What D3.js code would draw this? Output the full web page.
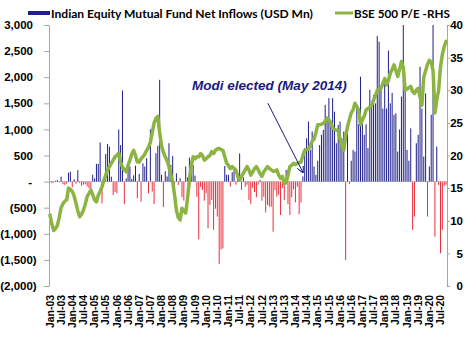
<!DOCTYPE html>
<html>
<head>
<meta charset="utf-8">
<script src="https://cdn.jsdelivr.net/npm/d3@7"></script>
<style>
  body { margin: 0; background: #fff; }
  svg { display: block; }
</style>
</head>
<body>
<svg id="chart" width="476" height="339"></svg>
<script>
// monthly data, Jan-03 onwards
const startYear = 2003;

const flows = [
  10, -30, -20, 15, 30, -15, 95, -50, -60, -40, 170, 190,
  -110, 45, -40, 220, -30, -80, -60, -50, -90, -130, -160, 130,
  60, 340, 340, 750, -415, 80, 530, 720, 670, 95, -255, -200,
  -220, 1000, 700, 1745, -430, 60, 290, 290, 50, 120, 305, -320,
  150, -385, 350, 290, 450, -225, 1000, -190, -430, 545, 685, 1950,
  130, -490, 200, 100, 735, 320, 490, -100, 160, -65, 65, -300,
  -365, 290, 80, 460, 235, 320, 115, -290, -1105, -100, -160, -365,
  -225, -895, -450, -350, -925, -520, -670, -1580, -1300, -1280, 300, 130,
  130, -95, 180, 220, -60, 120, 540, -160, 80, -100, -60, -350,
  -430, -120, -200, -300, -60, 30, -365, -290, -590, -450, -480, -480, -960,
  -160, -290, -250, -640, -120, -350, 225, -435, -640, -300, -150, -400,
  -100, -625, -400, 100, 640, 830, 1150, 607, 960, 290, 130, 400,
  700, 895, 990, 1470, 1245, 1600, 1100, 1600, 1340, 735, 1085, 1150,
  830, 960, -1500, 1055, -50, 400, 607, 575, 1400, 1100, 2010, 1150,
  895, 1100, 640, 1757, 1530, 1660, 1500, 2790, 2680, 1820, 1400, 1885,
  1400, 2510, 1500, 1700, 1280, 1310, 575, 1000, 1630, 3000, 1850, 607,
  400, 1020, -925, -670, 735, 895, 2200, 1400, 480, 1690, -670, 290,
  1280, 3000, -1055, 670, -65, -1375, -925, -80, -60
];

const pe = [
  10.9, 9.5, 8.5, 8.8, 9.3, 10.5, 12.0, 12.6, 13.0, 13.2, 15.0, 14.8,
  14.5, 13.8, 12.7, 11.5, 10.6, 11.0, 11.6, 12.5, 13.7, 14.2, 14.7, 14.0,
  13.2, 12.9, 13.9, 14.5, 15.2, 16.2, 17.0, 17.8, 18.3, 18.8, 19.3, 19.8,
  20.0, 20.4, 19.0, 18.2, 17.8, 17.5, 18.5, 19.3, 20.2, 20.8, 20.0, 19.0,
  19.0, 19.5, 19.8, 20.2, 20.8, 21.3, 22.0, 23.5, 25.0, 25.7, 26.0, 23.5,
  21.5, 20.5, 19.8, 19.2, 18.3, 17.0, 16.0, 14.0, 11.6, 10.5, 10.1, 11.9,
  11.5, 11.2, 13.5, 16.2, 18.5, 19.8, 19.5, 19.8, 19.8, 20.3, 20.0, 19.3,
  19.5, 19.8, 20.0, 20.6, 20.3, 20.8, 21.0, 21.1, 20.9, 20.8, 19.8, 18.8,
  18.5, 18.0, 18.3, 18.0, 17.8, 16.8, 16.2, 16.8, 17.3, 17.8, 18.3, 17.8,
  17.0, 17.5, 18.0, 18.3, 17.8, 17.2, 16.8, 17.5, 17.9, 18.3, 18.0, 17.8, 17.6,
  17.6, 17.8, 17.0, 16.5, 16.8, 15.7, 15.8, 17.0, 18.3, 18.5, 18.8, 18.6,
  18.8, 18.9, 19.0, 20.0, 20.8, 20.9, 21.0, 21.5, 22.2, 22.5, 23.5, 24.7,
  24.7, 24.8, 24.9, 25.3, 25.7, 25.5, 25.0, 24.2, 24.0, 23.9, 23.8, 22.5,
  21.5, 20.8, 23.0, 24.4, 25.5, 26.5, 27.0, 28.0, 27.5, 27.0, 24.7, 25.5,
  26.0, 27.0, 27.2, 27.4, 27.7, 28.5, 29.2, 30.0, 30.2, 30.3, 31.0, 31.8,
  30.8, 31.5, 32.6, 33.2, 33.9, 33.0, 32.1, 33.2, 34.4, 33.5, 30.0, 30.2,
  30.4, 30.6, 29.8, 29.5, 30.0, 30.3, 29.0, 27.7, 32.0, 33.0, 34.0, 34.6,
  34.3, 33.0, 26.5, 28.5, 30.0, 33.6, 35.5, 36.7, 37.5
];

const leftTicks = [-2000, -1500, -1000, -500, 0, 500, 1000, 1500, 2000, 2500, 3000];
const rightTicks = [0, 5, 10, 15, 20, 25, 30, 35, 40];
const seriesNames = ["Indian Equity Mutual Fund Net Inflows (USD Mn)", "BSE 500 P/E -RHS"];
const noteText = "Modi elected (May 2014)";
const noteMonth = "May-14";

const navy = "#1f1f8a", red = "#e8303c", green = "#8cb443", axisGrey = "#a6a6a6";

let svg = d3.select("#chart");
let fmt = d3.timeFormat("%b-%y");
let cats = d3.range(flows.length).map(i => fmt(new Date(startYear, i, 1)));

let x = d3.scaleBand().domain(cats).range([49, 447]);
let bw = x.bandwidth();
let y = d3.scaleLinear().domain([-2000, 3000]).range([286, 25]);
let y2 = d3.scaleLinear().domain([0, 40]).range([286, 25]);

// zero line
svg.append("line")
  .attr("x1", 49).attr("x2", 447)
  .attr("y1", y(0)).attr("y2", y(0))
  .attr("stroke", "#d0d0d0").attr("stroke-width", 1);

// bars
svg.append("g").selectAll("rect").data(flows).join("rect")
  .attr("x", (d, i) => x(cats[i]) + bw / 2 - 0.5)
  .attr("width", 1)
  .attr("y", d => y(Math.max(0, d)))
  .attr("height", d => Math.abs(y(d) - y(0)))
  .attr("fill", d => d >= 0 ? navy : red);

// P/E line
let line = d3.line()
  .x((d, i) => x(cats[i]) + bw / 2)
  .y(d => y2(d));

svg.append("path")
  .datum(pe)
  .attr("fill", "none")
  .attr("stroke", green)
  .attr("stroke-width", 3.5)
  .attr("stroke-linejoin", "round")
  .attr("stroke-linecap", "round")
  .attr("d", line);

// left axis
let leftFmt = d => d === 0 ? "-" : d < 0 ? "(" + d3.format(",")(-d) + ")" : d3.format(",")(d);
let gl = svg.append("g").attr("transform", "translate(49,0)")
  .call(d3.axisLeft(y).tickValues(leftTicks).tickFormat(leftFmt).tickSize(5).tickSizeOuter(0).tickPadding(11));
gl.select(".domain").attr("stroke", axisGrey);
gl.selectAll(".tick line").attr("stroke", axisGrey);
gl.selectAll("text")
  .attr("font-family", "'Liberation Sans', Arial, sans-serif")
  .attr("font-weight", "bold").attr("font-size", 11.5).attr("fill", "#000")
  .attr("dx", d => d < 0 ? 3.7 : d === 0 ? -1 : 0);

// right axis
let gr = svg.append("g").attr("transform", "translate(447,0)")
  .call(d3.axisRight(y2).tickValues(rightTicks).tickSize(3).tickSizeOuter(0));
gr.select(".domain").attr("stroke", axisGrey);
gr.selectAll(".tick line").attr("stroke", axisGrey);
gr.selectAll("text")
  .attr("x", 16).attr("text-anchor", "end")
  .attr("font-family", "'Liberation Sans', Arial, sans-serif")
  .attr("font-weight", "bold").attr("font-size", 11.5).attr("fill", "#000");

// category labels every 6 months
let labelCats = cats.filter((c, i) => i % 6 === 0);
svg.append("g").selectAll("text").data(labelCats).join("text")
  .attr("transform", c => `translate(${x(c) + bw / 2},295) rotate(-90)`)
  .attr("dy", "0.35em")
  .attr("text-anchor", "end")
  .attr("font-family", "'Liberation Sans', Arial, sans-serif")
  .attr("font-weight", "bold").attr("font-size", 10.4)
  .text(c => c);

function fit(sel, w) {
  let t = sel.node().getComputedTextLength();
  let fs = parseFloat(sel.attr("font-size"));
  sel.attr("font-size", fs * w / t);
}

// legend
svg.append("rect").attr("x", 28).attr("y", 11).attr("width", 22).attr("height", 4).attr("fill", navy);
let l1 = svg.append("text").attr("x", 51).attr("y", 17.5)
  .attr("font-family", "Lato, 'Open Sans', sans-serif").attr("font-weight", "bold")
  .attr("font-size", 12).text(seriesNames[0]);
fit(l1, 262);
svg.append("line").attr("x1", 335).attr("x2", 353).attr("y1", 13).attr("y2", 13)
  .attr("stroke", green).attr("stroke-width", 3);
let l2 = svg.append("text").attr("x", 354).attr("y", 17.5)
  .attr("font-family", "Lato, 'Open Sans', sans-serif").attr("font-weight", "bold")
  .attr("font-size", 12).text(seriesNames[1]);
fit(l2, 96);

// annotation
let note = svg.append("text").attr("x", 192).attr("y", 90)
  .attr("font-family", "'Liberation Sans', Arial, sans-serif")
  .attr("font-weight", "bold").attr("font-style", "italic")
  .attr("font-size", 13).attr("fill", "#1a1a80")
  .text(noteText);
fit(note, 155);

svg.append("defs").append("marker")
  .attr("id", "head").attr("viewBox", "0 0 8 8").attr("refX", 7).attr("refY", 4)
  .attr("markerWidth", 7).attr("markerHeight", 7).attr("orient", "auto")
  .append("path").attr("d", "M0,0L8,4L0,8").attr("fill", "none")
  .attr("stroke", "#1a1a80").attr("stroke-width", 1.2);

let tx = x(noteMonth) + bw / 2, ty = y(180);
svg.append("line")
  .attr("x1", tx - 35).attr("y1", ty - 69)
  .attr("x2", tx).attr("y2", ty)
  .attr("stroke", "#1a1a80").attr("stroke-width", 1)
  .attr("marker-end", "url(#head)");
</script>
</body>
</html>
